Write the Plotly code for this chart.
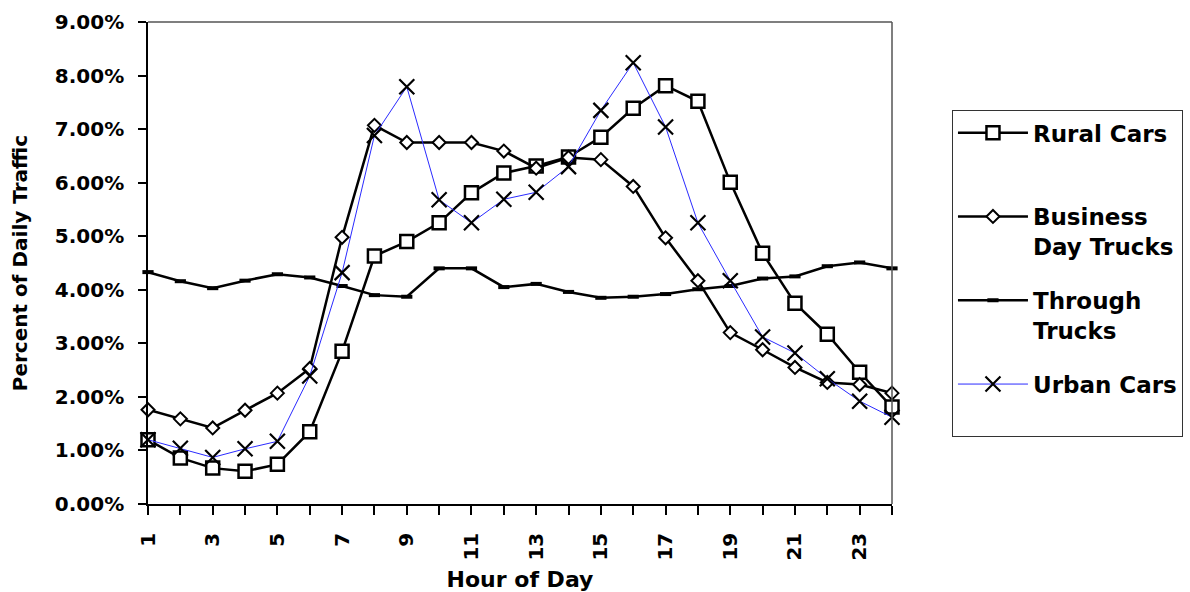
import plotly.graph_objects as go

hours = list(range(1, 25))
rural_cars = [1.20, 0.86, 0.67, 0.61, 0.74, 1.35, 2.85, 4.63, 4.90, 5.25, 5.81, 6.18,
              6.31, 6.48, 6.85, 7.39, 7.81, 7.52, 6.01, 4.68, 3.75, 3.17, 2.46, 1.81]
business_trucks = [1.76, 1.59, 1.42, 1.75, 2.07, 2.53, 4.98, 7.07, 6.75, 6.75, 6.75, 6.59,
                   6.27, 6.47, 6.43, 5.93, 4.97, 4.17, 3.20, 2.88, 2.55, 2.27, 2.23, 2.07]
through_trucks = [4.33, 4.16, 4.03, 4.17, 4.29, 4.23, 4.07, 3.90, 3.87, 4.40, 4.40, 4.05,
                  4.11, 3.96, 3.85, 3.87, 3.92, 4.01, 4.07, 4.21, 4.25, 4.44, 4.51, 4.40]
urban_cars = [1.20, 1.04, 0.87, 1.03, 1.17, 2.39, 4.32, 6.88, 7.79, 5.68, 5.25, 5.69,
              5.82, 6.30, 7.35, 8.24, 7.04, 5.25, 4.17, 3.12, 2.82, 2.34, 1.92, 1.62]

x_tick_vals = list(range(1, 25, 2))
y_tick_vals = list(range(0, 10))
y_tick_text = [f"{v:.2f}%" for v in y_tick_vals]

FONT = "DejaVu Sans"

fig = go.Figure()
fig.add_trace(go.Scatter(
    x=hours, y=rural_cars, name="Rural Cars<br> ", mode="lines+markers",
    line=dict(color="black", width=2.5), legendgroup="a",
    marker=dict(symbol="square", size=13, color="white", line=dict(color="black", width=2.5)),
    cliponaxis=False))
fig.add_trace(go.Scatter(
    x=hours, y=business_trucks, name="Business<br>Day Trucks", mode="lines+markers",
    line=dict(color="black", width=2.5), legendgroup="b",
    marker=dict(symbol="diamond", size=10, color="white", line=dict(color="black", width=2)),
    cliponaxis=False))
fig.add_trace(go.Scatter(
    x=hours, y=through_trucks, name="Through<br>Trucks", mode="lines+markers",
    line=dict(color="black", width=2.5), legendgroup="c",
    marker=dict(symbol="line-ew", size=8, color="black", line=dict(color="black", width=4)),
    cliponaxis=False))
fig.add_trace(go.Scatter(
    x=hours, y=urban_cars, name="Urban Cars<br> ", mode="lines+markers",
    line=dict(color="#2a2aff", width=1), legendgroup="d",
    marker=dict(symbol="x-thin", size=15, color="black", line=dict(color="black", width=2.2)),
    cliponaxis=False))

fig.update_layout(
    width=1190, height=592,
    margin=dict(l=148, r=298, t=22, b=88, autoexpand=False),
    plot_bgcolor="white", paper_bgcolor="white",
    font=dict(family=FONT, size=20, color="black", weight="bold"),
    legend=dict(
        x=1.0806, y=0.817, xanchor="left", yanchor="top",
        bordercolor="#333333", borderwidth=1, bgcolor="white",
        font=dict(family=FONT, size=23, color="black", weight="bold"),
        valign="top", tracegroupgap=21, traceorder="grouped",
        itemwidth=70, entrywidth=218,
    ),
    shapes=[
        dict(type="line", xref="paper", yref="paper", x0=0, x1=1, y0=1, y1=1,
             line=dict(color="#555555", width=1.5)),
        dict(type="line", xref="paper", yref="paper", x0=1, x1=1, y0=0, y1=1,
             line=dict(color="#555555", width=1.5)),
    ],
)
fig.update_xaxes(
    range=[1, 24], tickvals=x_tick_vals, ticktext=[str(v) for v in x_tick_vals],
    tickangle=-90, ticks="outside", ticklen=9, tickwidth=1.5, tickcolor="black",
    minor=dict(dtick=1, tick0=1, ticks="outside", ticklen=9, tickwidth=1.5, tickcolor="black"),
    showline=True, linecolor="black", linewidth=1.5, showgrid=False, zeroline=False,
    title=dict(text="Hour of Day", font=dict(size=22), standoff=12),
    tickfont=dict(size=20), ticklabelstandoff=10, automargin=False,
)
fig.update_yaxes(
    range=[0, 9], tickvals=y_tick_vals, ticktext=y_tick_text,
    ticks="outside", ticklen=8, tickwidth=1.5, tickcolor="black",
    showline=True, linecolor="black", linewidth=1.5, showgrid=False, zeroline=False,
    title=dict(text="Percent of Daily Traffic", font=dict(size=20), standoff=22),
    tickfont=dict(size=20), ticklabelstandoff=10, automargin=False,
)

fig.write_html("out.html")
